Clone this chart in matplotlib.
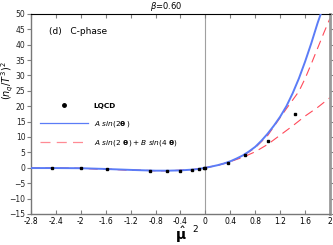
import matplotlib
matplotlib.use("Agg")
import matplotlib.pyplot as plt

# lattice points
lqcd_x = [-2.46, -2.0, -1.58, -0.89, -0.62, -0.40, -0.22, -0.10, -0.02, 0.0, 0.36, 0.64, 1.0, 1.44]
lqcd_y = [-0.1, -0.15, -0.45, -0.9, -1.0, -0.9, -0.7, -0.4, -0.2, 0.0, 1.5, 4.2, 8.7, 17.5]

# A sin(2 theta) fit
fit1_x = [-2.8, -2.4, -2.0, -1.6, -1.2, -0.8, -0.6, -0.4, -0.2, -0.1, 0.0,
          0.1, 0.2, 0.3, 0.4, 0.5, 0.6, 0.7, 0.8, 0.9, 1.0, 1.1, 1.2, 1.3,
          1.4, 1.5, 1.6, 1.7, 1.8, 1.86]
fit1_y = [-0.1, -0.1, -0.15, -0.4, -0.7, -0.95, -0.95, -0.85, -0.6, -0.35, 0.0,
          0.4, 0.85, 1.4, 2.1, 3.0, 4.0, 5.3, 6.8, 8.8, 11.1, 13.7, 16.6, 20.0,
          24.2, 29.0, 34.5, 40.5, 47.0, 50.5]

# A sin(2 theta) + B sin(4 theta) fits
fit2a_x = [-2.8, -2.4, -2.0, -1.6, -1.2, -0.8, -0.6, -0.4, -0.2, -0.1, 0.0,
           0.2, 0.4, 0.6, 0.8, 1.0, 1.2, 1.3, 1.4, 1.5, 1.6, 1.7, 1.8, 1.9, 2.0]
fit2a_y = [-0.1, -0.1, -0.2, -0.45, -0.75, -0.95, -0.95, -0.85, -0.6, -0.35, 0.0,
           0.8, 2.0, 3.8, 6.5, 10.5, 16.3, 19.2, 22.0, 24.8, 29.0, 33.8, 38.8, 43.8, 48.6]
fit2b_x = [-2.8, -2.4, -2.0, -1.6, -1.2, -0.8, -0.6, -0.4, -0.2, -0.1, 0.0,
           0.2, 0.4, 0.6, 0.8, 1.0, 1.2, 1.4, 1.6, 1.8, 2.0]
fit2b_y = [-0.1, -0.1, -0.2, -0.45, -0.75, -0.95, -0.95, -0.85, -0.6, -0.35, 0.0,
           0.8, 2.0, 3.4, 5.2, 7.6, 10.6, 13.6, 16.8, 19.6, 22.8]

x_ticks = [-2.8, -2.4, -2.0, -1.6, -1.2, -0.8, -0.4, 0.0, 0.4, 0.8, 1.2, 1.6, 2.0]
x_labels = ["-2.8", "-2.4", "-2", "-1.6", "-1.2", "-0.8", "-0.4", "0", "0.4", "0.8", "1.2", "1.6", "2"]
y_ticks = list(range(-15, 51, 5))

blue = "#5b7cf7"
red = "#ff4a5a"

fig = plt.figure(figsize=(3.33, 2.45), dpi=100)
ax = fig.add_axes([0.093, 0.127, 0.898, 0.816])

ax.axvline(0, color="#a0a0a0", lw=0.8, zorder=1)
ax.plot(fit2a_x, fit2a_y, color=red, lw=0.8, dashes=(8, 5), zorder=2)
ax.plot(fit2b_x, fit2b_y, color=red, lw=0.8, dashes=(8, 5), zorder=2)
ax.plot(fit1_x, fit1_y, color=blue, lw=1.4, zorder=3)
ax.plot(lqcd_x, lqcd_y, "s", color="black", ms=2, zorder=4)

# legend handles
h0, = ax.plot([], [], "o", color="black", ms=2.5, label="LQCD")
h1, = ax.plot([], [], color=blue, lw=0.9, label=r"$A\ sin(2\mathbf{\theta}\,)$")
h2, = ax.plot([], [], color="#ff8a94", lw=0.9, dashes=(8, 5),
              label=r"$A\ sin(2\ \mathbf{\theta}\,)+B\ sin(4\ \mathbf{\theta})$")
leg = ax.legend(handles=[h0, h1, h2], loc="upper left", bbox_to_anchor=(0.02, 0.57),
                frameon=False, fontsize=5.3, handlelength=6.5, labelspacing=1.3,
                borderaxespad=0)
leg.get_texts()[0].set_fontweight("bold")

ax.set_xlim(-2.8, 2.0)
ax.set_ylim(-15, 50)
ax.set_xticks(x_ticks)
ax.set_xticklabels(x_labels)
ax.set_yticks(y_ticks)
ax.tick_params(axis="x", direction="in", top=True, length=3, labelsize=5.5, pad=2, color="#808080")
ax.tick_params(axis="y", direction="out", right=True, length=3, labelsize=5.5, pad=1, color="#808080")
for lbl in ax.get_yticklabels():
    lbl.set_color("#222222")

for side in ["left", "bottom"]:
    ax.spines[side].set_color("#777777")
    ax.spines[side].set_linewidth(1.0)
ax.spines["right"].set_color("#999999")
ax.spines["right"].set_linewidth(2.0)
ax.spines["top"].set_color("black")
ax.spines["top"].set_linewidth(0.8)

ax.text(0.06, 0.9, "(d)   C-phase", transform=ax.transAxes, fontsize=6.5)
fig.text(0.5, 0.975, r"$\beta$=0.60", ha="center", va="center", fontsize=6)
fig.text(0.024, 0.67, r"$(n_q/T^3)^2$", rotation=90, ha="center", va="center", fontsize=7)
fig.text(0.543, 0.043, r"$\hat{\mathbf{\mu}}$", ha="center", va="center", fontsize=10)
fig.text(0.585, 0.062, "2", ha="center", va="center", fontsize=6.5)

fig.savefig("out.png", dpi=100)
